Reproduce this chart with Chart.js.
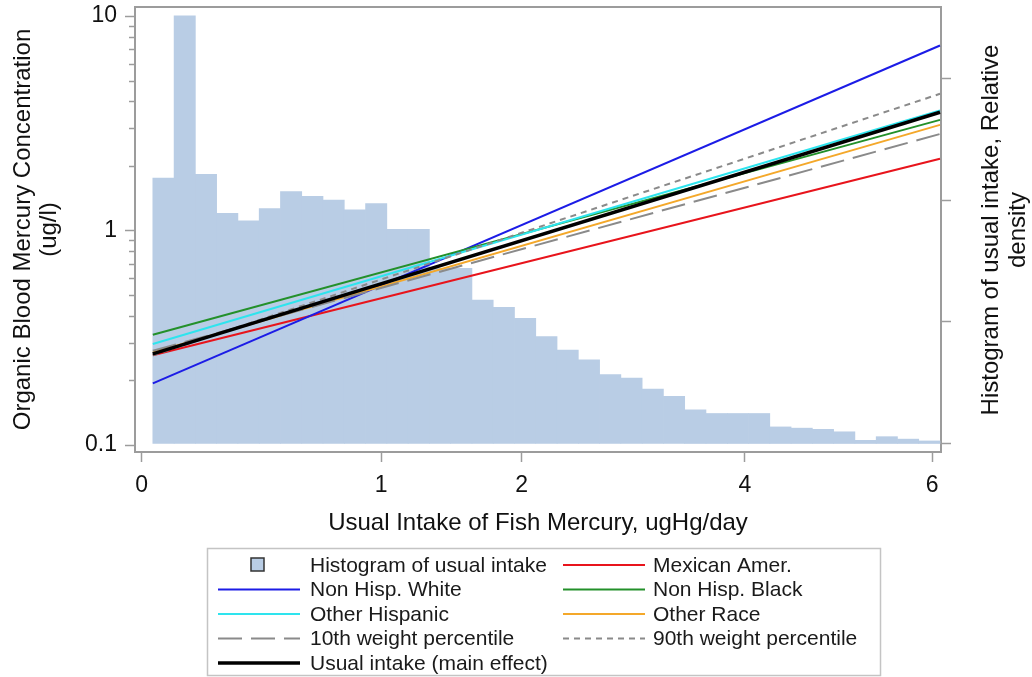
<!DOCTYPE html>
<html>
<head>
<meta charset="utf-8">
<script src="https://cdn.jsdelivr.net/npm/chart.js@4"></script>
<style>
  html, body { margin: 0; padding: 0; background: #fff; }
  #wrap { width: 1032px; height: 677px; }
</style>
</head>
<body>
<div id="wrap"><canvas id="chart" width="1032" height="677"></canvas></div>
<script>
// x axis is drawn on a power (2/3) scale, y on log10
const xTickValues = [0, 1, 2, 4, 6];
const yLabelTicks = [0.1, 1, 10];
const yMinorTicks = [0.2, 0.3, 0.4, 0.5, 0.6, 0.7, 0.8, 0.9, 2, 3, 4, 5, 6, 7, 8, 9];
const densityTicks = [0, 1, 2, 3];

// histogram of usual intake (relative density), equal bins on the drawn axis
const histFrom = 0.01;
const histTo = 6.09;
const histHeights = [
  2.18, 3.51, 2.21, 1.89, 1.83, 1.93, 2.07, 2.03, 2.00, 1.92,
  1.97, 1.76, 1.76, 1.44, 1.44, 1.18, 1.12, 1.03, 0.88, 0.77,
  0.69, 0.57, 0.54, 0.45, 0.39, 0.28, 0.25, 0.25, 0.25, 0.14,
  0.13, 0.12, 0.10, 0.03, 0.06, 0.04, 0.025
];

// fitted lines, values at both ends of the intake range
const lineX = [0.01, 6.09];
const mexicanAmer = [0.262, 2.16];
const nonHispWhite = [0.194, 7.29];
const nonHispBlack = [0.327, 3.28];
const otherHispanic = [0.296, 3.63];
const otherRace = [0.270, 3.11];
const weight10th = [0.275, 2.82];
const weight90th = [0.262, 4.34];
const mainEffect = [0.266, 3.56];

const FONT = '"Liberation Sans", Arial, sans-serif';
const AXIS = '#9c9c9c';
const tx = v => Math.pow(v, 2 / 3);

function linePoints(vals) {
  return lineX.map((x, i) => ({ x: tx(x), y: vals[i] }));
}

function histPoints() {
  const a = tx(histFrom), b = tx(histTo);
  const w = (b - a) / histHeights.length;
  return histHeights.map((h, i) => ({ x: a + w * (i + 0.5), y: h }));
}

function lineSet(label, vals, color, width, dash, order) {
  return {
    type: "line",
    label: label,
    data: linePoints(vals),
    borderColor: color,
    borderWidth: width,
    borderDash: dash,
    pointRadius: 0,
    tension: 0,
    fill: false,
    yAxisID: "y",
    order: order
  };
}

const datasets = [
  {
    type: "bar",
    label: "Histogram of usual intake",
    data: histPoints(),
    backgroundColor: "#b9cde5",
    borderWidth: 0,
    barPercentage: 1,
    categoryPercentage: 1,
    grouped: false,
    yAxisID: "y2",
    order: 20
  },
  lineSet("Mexican Amer.", mexicanAmer, "#e8141c", 2, [], 8),
  lineSet("Non Hisp. White", nonHispWhite, "#1c1ce6", 2, [], 7),
  lineSet("Non Hisp. Black", nonHispBlack, "#23902a", 2, [], 6),
  lineSet("Other Hispanic", otherHispanic, "#2ee4ee", 2, [], 5),
  lineSet("Other Race", otherRace, "#f4a82a", 2, [], 4),
  lineSet("10th weight percentile", weight10th, "#8a8a8a", 2, [24, 9], 3),
  lineSet("90th weight percentile", weight90th, "#8a8a8a", 2, [6, 5], 2),
  lineSet("Usual intake (main effect)", mainEffect, "#000000", 3.5, [], 1)
];

const framePlugin = {
  id: "frame",
  afterDraw(chart) {
    const { ctx, chartArea } = chart;
    const ys = chart.scales.y;
    ctx.save();
    // top frame line
    ctx.strokeStyle = AXIS;
    ctx.lineWidth = 2;
    ctx.beginPath();
    ctx.moveTo(chartArea.left - 1, chartArea.top);
    ctx.lineTo(chartArea.right + 1, chartArea.top);
    ctx.stroke();
    // minor log ticks
    ctx.lineWidth = 1.5;
    yMinorTicks.forEach(v => {
      const y = Math.round(ys.getPixelForValue(v)) + 0.5;
      ctx.beginPath();
      ctx.moveTo(chartArea.left - 6, y);
      ctx.lineTo(chartArea.left, y);
      ctx.stroke();
    });
    // right axis title, reading upwards like the left one
    ctx.fillStyle = "#111";
    ctx.font = "24px " + FONT;
    ctx.textAlign = "center";
    ctx.textBaseline = "middle";
    ctx.translate(991, 230);
    ctx.rotate(-Math.PI / 2);
    ctx.fillText("Histogram of usual intake, Relative", 0, 0);
    ctx.fillText("density", 0, 27);
    ctx.restore();
  }
};

const legendPlugin = {
  id: "boxLegend",
  afterDraw(chart) {
    const ctx = chart.ctx;
    const sets = chart.data.datasets;
    const cols = [{ sx: 218, ex: 300, tx: 310 }, { sx: 563, ex: 645, tx: 653 }];
    ctx.save();
    ctx.strokeStyle = "#c4c4c4";
    ctx.lineWidth = 1.5;
    ctx.strokeRect(207.5, 548.5, 673, 127);
    ctx.font = "21px " + FONT;
    ctx.textBaseline = "middle";
    sets.forEach((d, i) => {
      const c = cols[i % 2];
      const y = 565 + Math.floor(i / 2) * 24.5;
      if (d.type === "bar") {
        ctx.fillStyle = d.backgroundColor;
        ctx.fillRect(251, y - 7, 13, 13);
        ctx.strokeStyle = "#333";
        ctx.lineWidth = 1.5;
        ctx.strokeRect(251, y - 7, 13, 13);
      } else {
        ctx.strokeStyle = d.borderColor;
        ctx.lineWidth = d.borderWidth;
        ctx.setLineDash(d.borderDash || []);
        ctx.beginPath();
        ctx.moveTo(c.sx, y);
        ctx.lineTo(c.ex, y);
        ctx.stroke();
        ctx.setLineDash([]);
      }
      ctx.fillStyle = "#1a1a1a";
      ctx.fillText(d.label, c.tx, y + 1);
    });
    ctx.restore();
  }
};

new Chart(document.getElementById("chart"), {
  type: "line",
  data: { datasets: datasets },
  plugins: [framePlugin, legendPlugin],
  options: {
    responsive: false,
    animation: false,
    layout: { padding: { top: 7, bottom: 137, left: 0, right: 0 } },
    plugins: {
      legend: { display: false },
      tooltip: { enabled: false }
    },
    scales: {
      x: {
        type: "linear",
        position: "bottom",
        min: -0.028,
        max: 3.339,
        offset: false,
        afterFit: s => { s.height = 88; s.paddingLeft = 0; s.paddingRight = 0; },
        afterBuildTicks: s => {
          s.ticks = xTickValues.map(v => ({ value: tx(v) }));
        },
        ticks: {
          color: "#111",
          font: { size: 23, family: FONT },
          padding: 10,
          maxRotation: 0,
          autoSkip: false,
          callback: (v, i) => String(xTickValues[i])
        },
        grid: { drawOnChartArea: false, offset: false, tickLength: 10, tickColor: AXIS, tickWidth: 1.5 },
        border: { color: AXIS, width: 2 },
        title: {
          display: true,
          text: "Usual Intake of Fish Mercury, ugHg/day",
          color: "#111",
          font: { size: 24, family: FONT },
          padding: { top: 0, bottom: 2 }
        }
      },
      y: {
        type: "logarithmic",
        position: "left",
        min: 0.0928,
        max: 11.02,
        afterFit: s => { s.width = 135; s.paddingTop = 0; s.paddingBottom = 0; },
        afterBuildTicks: s => {
          s.ticks = yLabelTicks.map(v => ({ value: v, major: true }));
        },
        ticks: {
          color: "#111",
          font: { size: 23, family: FONT },
          padding: 8,
          autoSkip: false,
          callback: v => String(v)
        },
        grid: { drawOnChartArea: false, tickLength: 10, tickColor: AXIS, tickWidth: 1.5 },
        border: { color: AXIS, width: 2 },
        title: {
          display: true,
          text: ["Organic Blood Mercury Concentration", "(ug/l)"],
          color: "#111",
          font: { size: 24, family: FONT, lineHeight: 1.1 },
          padding: { top: 10 }
        }
      },
      y2: {
        type: "linear",
        position: "right",
        min: -0.0656,
        max: 3.582,
        afterFit: s => { s.width = 91; s.paddingTop = 0; s.paddingBottom = 0; },
        afterBuildTicks: s => {
          s.ticks = densityTicks.map(v => ({ value: v }));
        },
        ticks: { display: false },
        grid: { drawOnChartArea: false, tickLength: 10, tickColor: AXIS, tickWidth: 1.5 },
        border: { color: AXIS, width: 2 }
      }
    }
  }
});
</script>
</body>
</html>
